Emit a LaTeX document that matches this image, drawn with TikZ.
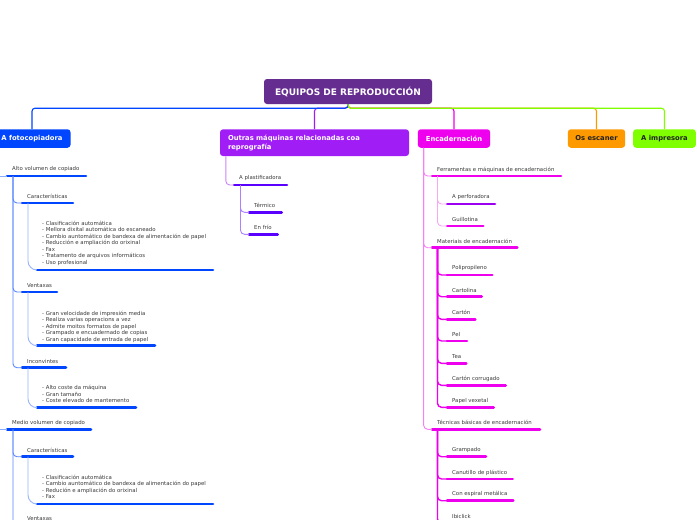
\documentclass[tikz,border=0pt]{standalone}
\usepackage{fontspec}
\setmainfont{DejaVu Sans}
\usetikzlibrary{calc}
\definecolor{cTitle}{HTML}{662D91}
\definecolor{cBlue}{HTML}{0046FF}
\definecolor{cViol}{HTML}{A01EF5}
\definecolor{cInd}{HTML}{5A00FF}
\definecolor{cMag}{HTML}{EE00EE}
\definecolor{cPurp}{HTML}{9B00F0}
\definecolor{cOr}{HTML}{FF9900}
\definecolor{cGr}{HTML}{80FF00}
\definecolor{cTxt}{HTML}{3A3A3A}
\definecolor{cDark}{HTML}{222222}
\tikzset{
  box/.style={rounded corners=3pt, inner sep=0pt, font=\fontsize{6.8}{8.7}\selectfont\bfseries},
  lbl/.style={inner sep=0pt, text=cTxt, font=\fontsize{5.4}{6.5}\selectfont, anchor=west},
  lst/.style={inner sep=0pt, text=cTxt, font=\fontsize{5.4}{6.5}\selectfont, align=left, anchor=north west},
  uline/.style={line width=2.6pt, line cap=round},
  conn/.style={line width=1.1pt, rounded corners=3pt},
  sub/.style={line width=0.9pt, rounded corners=4pt},
  crv/.style={line width=0.9pt, rounded corners=9pt},
}
\newcommand\mmline[5]{%
  \coordinate (#1) at (#2,#4);
  \coordinate (#1e) at (#3,#4);
  \draw[uline,#5] (#1) -- (#1e);
}
\newcommand\mmtopic[6]{%
  \mmline{#1}{#2}{#3}{#4}{#5}
  \node[lbl] (#1t) at (#2+5,#4-6.5) {#6};
}
\begin{document}
\begin{tikzpicture}[x=1pt,y=-1pt]
\useasboundingbox (0,0) rectangle (697,520);
\clip (0,0) rectangle (697,520);
\fill[white] (0,0) rectangle (697,520);

% main boxes
\node[box, fill=cTitle, text=white, minimum width=168pt, minimum height=25pt,
      font=\fontsize{9}{10}\selectfont\bfseries] (t) at (348,91.5) {EQUIPOS DE REPRODUCCIÓN};
\node[box, fill=cBlue, text=white, minimum width=77pt, minimum height=18.5pt] (fc) at (32,138.5) {A fotocopiadora};
\node[box, fill=cViol, text=white, minimum width=189pt, minimum height=26.7pt,
      text width=173pt, align=left] (ou) at (314.5,142.7) {Outras máquinas relacionadas coa\\reprografía};
\node[box, fill=cMag, text=white, minimum width=72.3pt, minimum height=18.5pt] (en) at (454,138.5) {Encadernación};
\node[box, fill=cOr, text=cDark, minimum width=57.3pt, minimum height=18.5pt] (os) at (596.5,138.5) {Os escaner};
\node[box, fill=cGr, text=cDark, minimum width=62.7pt, minimum height=18.5pt] (im) at (664.5,138.5) {A impresora};

% connectors from title
\draw[conn,cViol] (t.south) -- ++(0,4) -| (ou.north);
\draw[conn,cMag] (t.south) -- ++(0,4) -| (en.north);
\draw[conn,cOr] (t.south) -- ++(0,4) -| (os.north);
\draw[conn,cBlue] (t.south) -- ++(0,4) -| (fc.north);
\draw[conn,cGr] (t.south) -- ++(0,4) -| (im.north);

% ---------- A fotocopiadora ----------
\mmtopic{a1}{7}{86}{176}{cBlue}{Alto volumen de copiado}
\mmtopic{a2}{22}{73}{203}{cBlue}{Características}
\mmline{a2l}{37}{213}{270}{cBlue}
\node[lst] (a2lt) at (42,220.6) {- Clasificación automática\\- Mellora dixital automática do escaneado\\- Cambio auntomático de bandexa de alimentación de papel\\- Reducción e ampliación do orixinal\\- Fax\\- Tratamento de arquivos informáticos\\- Uso profesional};
\mmtopic{a3}{22}{57}{292}{cBlue}{Ventaxas}
\mmline{a3l}{37}{155}{345.7}{cBlue}
\node[lst] (a3lt) at (42,310.6) {- Gran velocidade de impresión media\\- Realiza varias operacions a vez\\- Admite moitos formatos de papel\\- Grampado e encuadernado de copias\\- Gran capacidade de entrada de papel};
\mmtopic{a4}{22}{66}{367.7}{cBlue}{Inconvintes}
\mmline{a4l}{37}{136}{407.7}{cBlue}
\node[lst] (a4lt) at (42,385) {- Alto coste da máquina\\- Gran tamaño\\- Coste elevado de mantemento};
\mmtopic{m1}{7}{91}{429.3}{cBlue}{Medio volumen de copiado}
\mmtopic{m2}{22}{73}{456.7}{cBlue}{Características}
\mmline{m2l}{37}{213}{504}{cBlue}
\node[lst] (m2lt) at (42,474.6) {- Clasificación automática\\- Cambio auntomático de bandexa de alimentación do papel\\- Redución e ampliación do orixinal\\- Fax};
\mmtopic{m3}{22}{57}{525}{cBlue}{Ventaxas}

\coordinate (fin1) at (-3,176);
\coordinate (fin2) at (-3,429.3);
\draw[sub,cBlue!45] (fin1) -- (a1);
\draw[sub,cBlue!45] (fin2) -- (m1);
\draw[sub,cBlue!65] ($(a1)+(6,0)$) |- (a2);
\draw[sub,cBlue!65] ($(a1)+(6,0)$) |- (a3);
\draw[sub,cBlue!65] ($(a1)+(6,0)$) |- (a4);
\draw[crv,cBlue!40] ($(a2)+(6,0)$) |- (a2l);
\draw[crv,cBlue!40] ($(a3)+(6,0)$) |- (a3l);
\draw[crv,cBlue!40] ($(a4)+(6,0)$) |- (a4l);
\draw[sub,cBlue!65] ($(m1)+(6,0)$) |- (m2);
\draw[sub,cBlue!65] ($(m1)+(6,0)$) |- (m3);
\draw[crv,cBlue!40] ($(m2)+(6,0)$) |- (m2l);

% ---------- Outras maquinas ----------
\mmtopic{p1}{234}{287}{185}{cInd}{A plastificadora}
\mmtopic{p2}{249}{281.7}{212.3}{cInd}{Térmico}
\mmtopic{p3}{249}{277.7}{234.3}{cInd}{En frío}
\draw[sub,cViol!55] ($(ou.south west)+(6,0)$) |- (p1);
\draw[sub,cInd!50] ($(p1)+(6.5,0)$) |- (p2);
\draw[sub,cInd!50] ($(p1)+(6.5,0)$) |- (p3);

% ---------- Encadernacion ----------
\mmtopic{e1}{432}{561}{176}{cMag}{Ferramentas e máquinas de encadernación}
\mmtopic{e11}{447}{495}{204}{cPurp}{A perforadora}
\mmtopic{e12}{447}{483.3}{226}{cMag}{Guillotina}
\mmtopic{e2}{432}{517.3}{247.7}{cMag}{Materiais de encadernación}
\mmtopic{e21}{447}{492.3}{275}{cMag}{Polipropileno}
\mmtopic{e22}{447}{481.7}{296.7}{cMag}{Cartolina}
\mmtopic{e23}{447}{475.3}{319.3}{cMag}{Cartón}
\mmtopic{e24}{447}{467}{341}{cMag}{Pel}
\mmtopic{e25}{447}{466.3}{363.3}{cMag}{Tea}
\mmtopic{e26}{447}{505.7}{385.3}{cMag}{Cartón corrugado}
\mmtopic{e27}{447}{493.7}{407.3}{cMag}{Papel vexetal}
\mmtopic{e3}{432}{540}{429.3}{cMag}{Técnicas básicas de encadernación}
\mmtopic{e31}{447}{486}{456.7}{cMag}{Grampado}
\mmtopic{e32}{447}{512.7}{479}{cMag}{Canutillo de plástico}
\mmtopic{e33}{447}{513.3}{500.7}{cMag}{Con espiral metálica}
\mmtopic{e34}{447}{480}{523}{cMag}{Ibiclick}

\draw[sub,cMag!50] ($(en.south west)+(6,0)$) |- (e1);
\draw[sub,cMag!50] ($(en.south west)+(6,0)$) |- (e2);
\draw[sub,cMag!50] ($(en.south west)+(6,0)$) |- (e3);
\draw[sub,cMag!35] ($(e1)+(5.5,0)$) |- (e11);
\draw[sub,cMag!35] ($(e1)+(5.5,0)$) |- (e12);
\foreach \k in {e21,e22,e23,e24,e25,e26,e27}
  \draw[sub,cMag,line width=1.4pt] ($(e2)+(5.5,0)$) |- (\k);
\foreach \k in {e31,e32,e33,e34}
  \draw[sub,cMag,line width=1.4pt] ($(e3)+(5.5,0)$) |- (\k);
\end{tikzpicture}
\end{document}
